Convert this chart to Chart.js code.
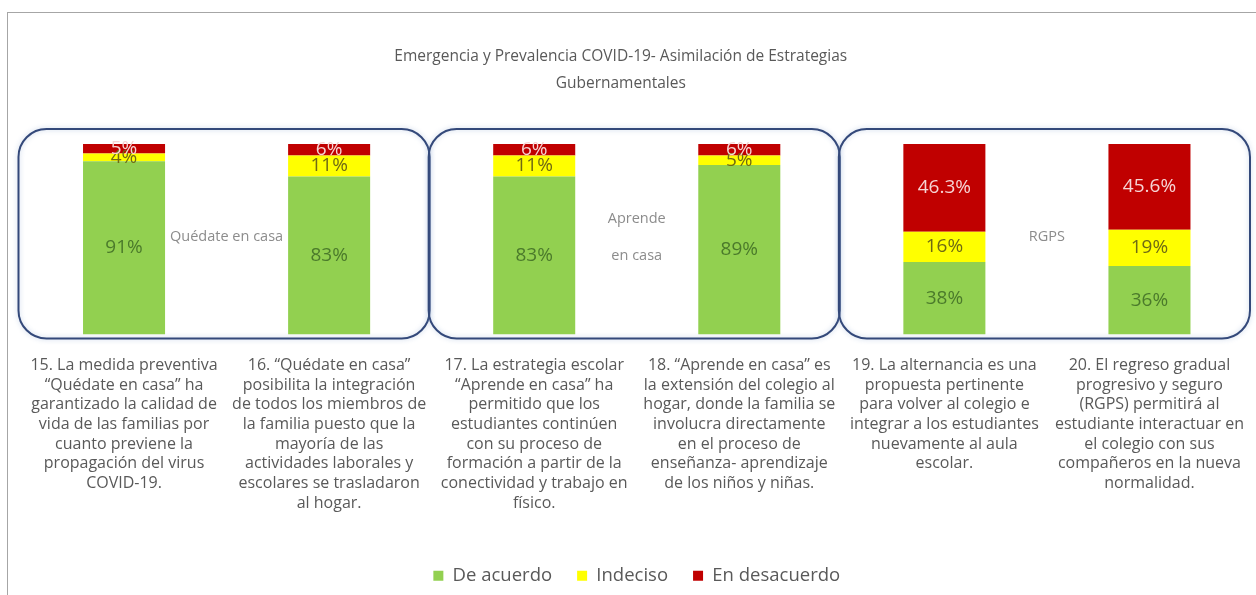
<!DOCTYPE html>
<html>
<head>
<meta charset="utf-8">
<script src="https://cdn.jsdelivr.net/npm/chart.js@4.4.1/dist/chart.umd.min.js"></script>
<style>
  html, body { margin: 0; padding: 0; background: #fff; overflow: hidden; }
  #frame { position: absolute; left: 7px; top: 12px; width: 1300px; height: 700px; border: 1px solid #a6a6a6; }
  #wrap { position: absolute; left: 0; top: 0; width: 1256px; height: 595px; }
</style>
</head>
<body>
<div id="frame"></div>
<div id="wrap"><canvas id="chart"></canvas></div>
<script>
// Chart data
const titleLines = ["Emergencia y Prevalencia COVID-19- Asimilación de Estrategias", "Gubernamentales"];

const categories = [
  ["15. La medida preventiva", "\u201cQuédate en casa\u201d ha", "garantizado la calidad de", "vida de las familias por", "cuanto previene la", "propagación del virus", "COVID-19."],
  ["16. \u201cQuédate en casa\u201d", "posibilita la integración", "de todos los miembros de", "la familia puesto que la", "mayoría de las", "actividades laborales y", "escolares se trasladaron", "al hogar."],
  ["17. La estrategia escolar", "\u201cAprende en casa\u201d ha", "permitido que los", "estudiantes continúen", "con su proceso de", "formación a partir de la", "conectividad y trabajo en", "físico."],
  ["18. \u201cAprende en casa\u201d es", "la extensión del colegio al", "hogar, donde la familia se", "involucra directamente", "en el proceso de", "enseñanza- aprendizaje", "de los niños y niñas."],
  ["19. La alternancia es una", "propuesta pertinente", "para volver al colegio e", "integrar a los estudiantes", "nuevamente al aula", "escolar."],
  ["20. El regreso gradual", "progresivo y seguro", "(RGPS) permitirá al", "estudiante interactuar en", "el colegio con sus", "compañeros en la nueva", "normalidad."]
];

const deAcuerdo = [91, 83, 83, 89, 38, 36];
const indeciso = [4, 11, 11, 5, 16, 19];
const enDesacuerdo = [5, 6, 6, 6, 46.3, 45.6];

const seriesNames = ["De acuerdo", "Indeciso", "En desacuerdo"];
const panelNames = [["Quédate en casa"], ["Aprende", "en casa"], ["RGPS"]];

// Colors
const barColors = ["#92d050", "#ffff00", "#c00000"];
const labelColors = ["#4b7a2b", "#6f6a14", "#f6d4d4"];
const FONT = "'Open Sans', 'DejaVu Sans', sans-serif";

// Rounded boxes around each pair of bars + the name in the middle
const panelPlugin = {
  id: "panels",
  beforeDatasetsDraw(chart) {
    const { ctx, scales: { x, y } } = chart;
    const step = x.getPixelForValue(1) - x.getPixelForValue(0);
    const top = y.getPixelForValue(100) - 15;
    const bottom = y.getPixelForValue(0) + 4;
    ctx.save();
    panelNames.forEach((lines, i) => {
      const c0 = x.getPixelForValue(2 * i);
      const c1 = x.getPixelForValue(2 * i + 1);
      const left = c0 - step / 2 - 3;
      const right = c1 + step / 2 - 2;
      ctx.beginPath();
      ctx.roundRect(left, top, right - left, bottom - top, 28);
      ctx.shadowColor = "rgba(120,150,200,0.45)";
      ctx.shadowBlur = 5;
      ctx.lineWidth = 2;
      ctx.strokeStyle = "#34497a";
      ctx.stroke();
      ctx.shadowBlur = 0;

      // panel name
      ctx.fillStyle = "#8c8c8c";
      ctx.font = "14.5px " + FONT;
      ctx.textAlign = "center";
      ctx.textBaseline = "middle";
      const mid = (c0 + c1) / 2;
      const cy = y.getPixelForValue(51);
      const gap = 37;
      lines.forEach((t, k) => {
        ctx.fillText(t, mid, cy + (k - (lines.length - 1) / 2) * gap);
      });
    });
    ctx.restore();
  }
};

// Value labels in the middle of each segment
const valueLabels = {
  id: "valueLabels",
  afterDatasetsDraw(chart) {
    const { ctx } = chart;
    ctx.save();
    ctx.font = "19px " + FONT;
    ctx.textAlign = "center";
    ctx.textBaseline = "middle";
    chart.data.datasets.forEach((ds, di) => {
      const meta = chart.getDatasetMeta(di);
      ctx.fillStyle = labelColors[di];
      meta.data.forEach((bar, i) => {
        const v = ds.data[i];
        const txt = (Number.isInteger(v) ? v : v.toFixed(1)) + "%";
        ctx.fillText(txt, bar.x, (bar.y + bar.base) / 2);
      });
    });
    ctx.restore();
  }
};

// nudge the title a little to the left like the original
const shiftTitle = {
  id: "shiftTitle",
  afterLayout(chart) {
    if (chart.titleBlock) {
      chart.titleBlock.left -= 16;
      chart.titleBlock.right -= 16;
    }
  }
};

const ctx = document.getElementById("chart").getContext("2d");

const chart = new Chart(ctx, {
  type: "bar",
  data: {
    labels: categories,
    datasets: [
      { label: seriesNames[0], data: deAcuerdo, backgroundColor: barColors[0] },
      { label: seriesNames[1], data: indeciso, backgroundColor: barColors[1] },
      { label: seriesNames[2], data: enDesacuerdo, backgroundColor: barColors[2] },
    ],
  },
  options: {
    responsive: true,
    maintainAspectRatio: false,
    animation: false,
    layout: { padding: { left: 21.5, right: 4, top: 0, bottom: 0 } },
    datasets: {
      bar: { categoryPercentage: 1, barPercentage: 0.4 },
    },
    scales: {
      x: {
        stacked: true,
        grid: { display: false, drawTicks: false },
        border: { display: false },
        ticks: {
          autoSkip: false,
          maxRotation: 0,
          padding: 21,
          color: "#595959",
          font: { family: FONT, size: 16, lineHeight: "19.7px" },
        },
        afterFit(scale) {
          // fixed axis height, and let the edge labels overflow instead of squeezing the bars
          scale.height = 207;
          scale.paddingLeft = 0;
          scale.paddingRight = 0;
        },
      },
      y: {
        stacked: true,
        display: false,
        min: 0,
        max: 100,
      },
    },
    plugins: {
      title: {
        display: true,
        text: titleLines,
        color: "#595959",
        font: { family: FONT, size: 15.5, weight: "normal", lineHeight: "27px" },
        padding: { top: 43.5, bottom: 46.5 },
      },
      legend: {
        position: "bottom",
        maxHeight: 54,
        labels: {
          boxWidth: 10,
          boxHeight: 10,
          padding: 25,
          color: "#595959",
          font: { family: FONT, size: 18.5 },
        },
      },
      tooltip: { enabled: false },
    },
  },
  plugins: [panelPlugin, valueLabels, shiftTitle],
});
</script>
</body>
</html>
